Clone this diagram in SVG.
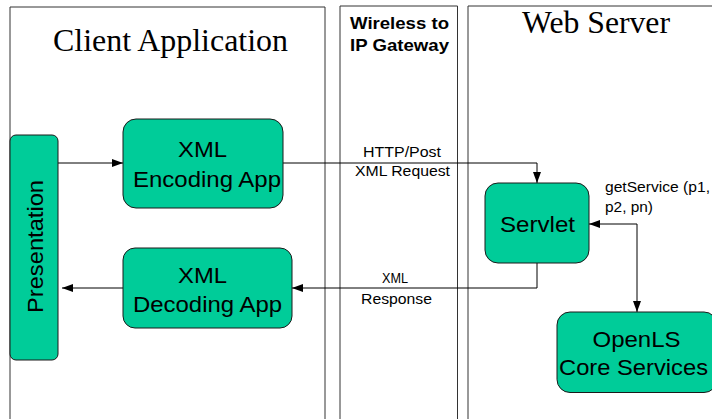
<svg xmlns="http://www.w3.org/2000/svg" width="712" height="419" viewBox="0 0 712 419">
<style>
.frame{fill:none;stroke:#333;stroke-width:1}
.node{fill:#00CC99;stroke:#1a1a1a;stroke-width:1}
.nt{font-family:"Liberation Sans",Arial,sans-serif;font-size:22px;fill:#000;text-anchor:middle}
.lbl{font-family:"Liberation Sans",Arial,sans-serif;font-size:14px;fill:#000}
.title{font-family:"Liberation Serif","Times New Roman",serif;font-size:32px;fill:#000}
.gw{font-family:"Liberation Sans",Arial,sans-serif;font-size:16.5px;font-weight:bold;fill:#000}
.conn{fill:none;stroke:#000;stroke-width:1}
</style>
<defs>
<marker id="ah" viewBox="0 0 11 8" refX="11" refY="4" markerWidth="11" markerHeight="8" markerUnits="userSpaceOnUse" orient="auto">
<path d="M0,0 L11,4 L0,8 Z" fill="#000"/>
</marker>
<marker id="ahs" viewBox="0 0 11 8" refX="0" refY="4" markerWidth="11" markerHeight="8" markerUnits="userSpaceOnUse" orient="auto">
<path d="M11,0 L0,4 L11,8 Z" fill="#000"/>
</marker>
</defs>
<rect width="712" height="419" fill="#fff"/>
<g id="lanes">
<path class="frame" d="M10,425 V7 H325 V425"/>
<path class="frame" d="M340,425 V6 H457.5 V425"/>
<path class="frame" d="M468,425 V6 H720"/>
<text class="title" x="53" y="51" textLength="235" lengthAdjust="spacingAndGlyphs">Client Application</text>
<text class="title" x="522" y="33" textLength="148" lengthAdjust="spacingAndGlyphs">Web Server</text>
<text class="gw" x="350" y="29" textLength="99" lengthAdjust="spacingAndGlyphs">Wireless to</text>
<text class="gw" x="350" y="51" textLength="99" lengthAdjust="spacingAndGlyphs">IP Gateway</text>
</g>
<g id="connectors">
<path class="conn" d="M58,163 H123" marker-end="url(#ah)"/>
<path class="conn" d="M283,163 H537 V183" marker-end="url(#ah)"/>
<path class="conn" d="M537,263 V288 H292" marker-end="url(#ah)"/>
<path class="conn" d="M123,288 H62" marker-end="url(#ah)"/>
<path class="conn" d="M589,224 H637 V312" marker-start="url(#ahs)" marker-end="url(#ah)"/>
<text class="lbl" x="363" y="157" textLength="78" lengthAdjust="spacingAndGlyphs">HTTP/Post</text>
<text class="lbl" x="355" y="175.5" textLength="95" lengthAdjust="spacingAndGlyphs">XML Request</text>
<text class="lbl" x="382" y="283" textLength="26" lengthAdjust="spacingAndGlyphs">XML</text>
<text class="lbl" x="361" y="304" textLength="71" lengthAdjust="spacingAndGlyphs">Response</text>
<text class="lbl" x="605" y="192" textLength="105" lengthAdjust="spacingAndGlyphs">getService (p1,</text>
<text class="lbl" x="605" y="212" textLength="48" lengthAdjust="spacingAndGlyphs">p2, pn)</text>
</g>
<g id="presentation">
<rect class="node" x="10" y="135" width="48" height="225" rx="6"/>
<text class="nt" font-size="24" transform="translate(43,246.5) rotate(-90)" textLength="133" lengthAdjust="spacingAndGlyphs">Presentation</text>
</g>
<g id="encoding">
<rect class="node" x="123" y="119" width="160" height="89" rx="13"/>
<text class="nt" x="202.5" y="157" textLength="49" lengthAdjust="spacingAndGlyphs">XML</text>
<text class="nt" x="207" y="187" textLength="148" lengthAdjust="spacingAndGlyphs">Encoding App</text>
</g>
<g id="decoding">
<rect class="node" x="123" y="248" width="169" height="80" rx="12"/>
<text class="nt" x="202.5" y="282.5" textLength="49" lengthAdjust="spacingAndGlyphs">XML</text>
<text class="nt" x="207.5" y="312" textLength="149" lengthAdjust="spacingAndGlyphs">Decoding App</text>
</g>
<g id="servlet">
<rect class="node" x="485" y="183" width="104" height="80" rx="13"/>
<text class="nt" x="537.5" y="232" textLength="75" lengthAdjust="spacingAndGlyphs">Servlet</text>
</g>
<g id="openls">
<rect class="node" x="557" y="312" width="160" height="80.5" rx="13"/>
<text class="nt" x="636.5" y="347" textLength="88" lengthAdjust="spacingAndGlyphs">OpenLS</text>
<text class="nt" x="633.5" y="375" textLength="149" lengthAdjust="spacingAndGlyphs">Core Services</text>
</g>
</svg>
